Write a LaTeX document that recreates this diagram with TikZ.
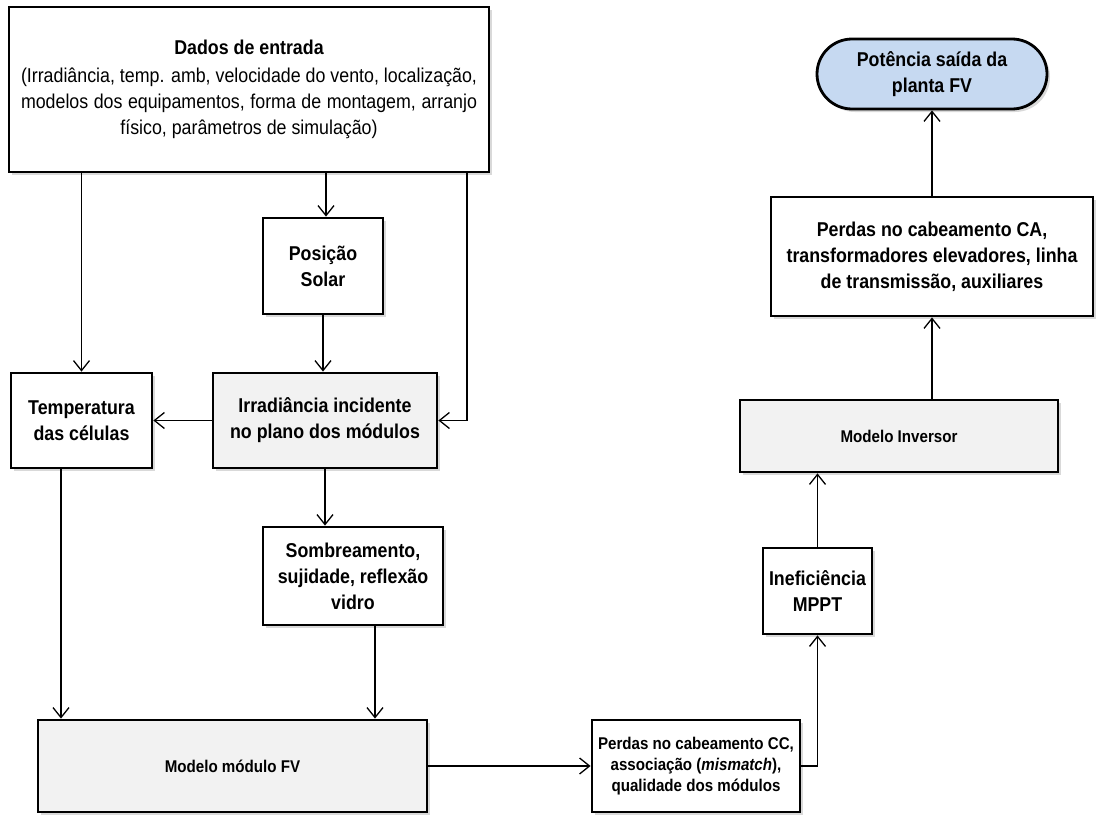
\documentclass[tikz,border=0pt]{standalone}
\usepackage{fontspec}
\setmainfont{Liberation Sans}[FakeStretch=0.89]
\usetikzlibrary{arrows.meta,shadows}
\definecolor{boxgray}{HTML}{F2F2F2}
\definecolor{boxblue}{HTML}{C6D9F1}
\tikzset{
  box/.style={draw, line width=2.8pt, fill=white, inner sep=0pt, align=center,
    font=\fontsize{20}{26}\selectfont\bfseries,
    drop shadow={shadow xshift=3pt, shadow yshift=-3pt, opacity=0.3}},
  graybox/.style={box, fill=boxgray},
  smalltext/.style={font=\fontsize{17}{21}\selectfont\bfseries},
  arr/.style={-{Straight Barb[length=10pt,width=16pt]}, line width=1.3pt},
}
\begin{document}
\begin{tikzpicture}[x=1pt,y=-1pt]
\useasboundingbox (0,0) rectangle (1119,827);

\node[box, minimum width=480pt, minimum height=165pt] (dados) at (249,89.5)
  {Dados de entrada\\[2pt]
   \mdseries\makebox[456pt][s]{(Irradiância, temp. amb, velocidade do vento, localização,}\\
   \mdseries\makebox[456pt][s]{modelos dos equipamentos, forma de montagem, arranjo}\\
   \mdseries físico, parâmetros de simulação)};

\node[box, minimum width=120pt, minimum height=96pt] (pos) at (323,266) {Posição\\Solar};
\node[box, minimum width=141pt, minimum height=95pt] (temp) at (81.5,420.5) {Temperatura\\das células};
\node[graybox, minimum width=224pt, minimum height=95pt] (irr) at (325,420.5) {Irradiância incidente\\no plano dos módulos};
\node[box, minimum width=180pt, minimum height=98pt] (somb) at (353,576) {Sombreamento,\\sujidade, reflexão\\vidro};
\node[graybox, smalltext, minimum width=389pt, minimum height=92pt] (mod) at (232.5,766) {Modelo módulo FV};
\node[box, smalltext, minimum width=208pt, minimum height=92pt] (pcc) at (696,766) {Perdas no cabeamento CC,\\associação (\textit{mismatch}),\\qualidade dos módulos};
\node[box, minimum width=109pt, minimum height=86pt] (inef) at (817.5,591) {Ineficiência\\MPPT};
\node[graybox, smalltext, minimum width=318pt, minimum height=72pt] (inv) at (899,436) {Modelo Inversor};
\node[box, minimum width=322pt, minimum height=119pt] (pca) at (932,256.5) {Perdas no cabeamento CA,\\transformadores elevadores, linha\\de transmissão, auxiliares};
\node[box, fill=boxblue, rounded corners=35pt, minimum width=230pt, minimum height=70pt] (pot) at (932,74) {Potência saída da\\planta FV};

\coordinate (k1) at (467,0);
\coordinate (k2) at (61,0);
\coordinate (k3) at (375,0);

\draw[arr] (temp.north |- dados.south) -- (temp.north);
\draw[arr] ([xshift=3pt]pos.north |- dados.south) -- ([xshift=3pt]pos.north);
\draw[arr] (k1 |- dados.south) |- (irr.east);
\draw[arr] (pos.south) -- (pos.south |- irr.north);
\draw[arr] (irr.west) -- (temp.east);
\draw[arr] ([xshift=-28pt]somb.north |- irr.south) -- ([xshift=-28pt]somb.north);
\draw[arr] (k2 |- temp.south) -- (k2 |- mod.north);
\draw[arr] (k3 |- somb.south) -- (k3 |- mod.north);
\draw[arr] (mod.east) -- (pcc.west);
\draw[arr] (pcc.east) -| (inef.south);
\draw[arr] (inef.north) -- (inef.north |- inv.south);
\draw[arr] (pca.south |- inv.north) -- (pca.south);
\draw[arr] (pca.north) -- (pot.south);
\end{tikzpicture}
\end{document}
